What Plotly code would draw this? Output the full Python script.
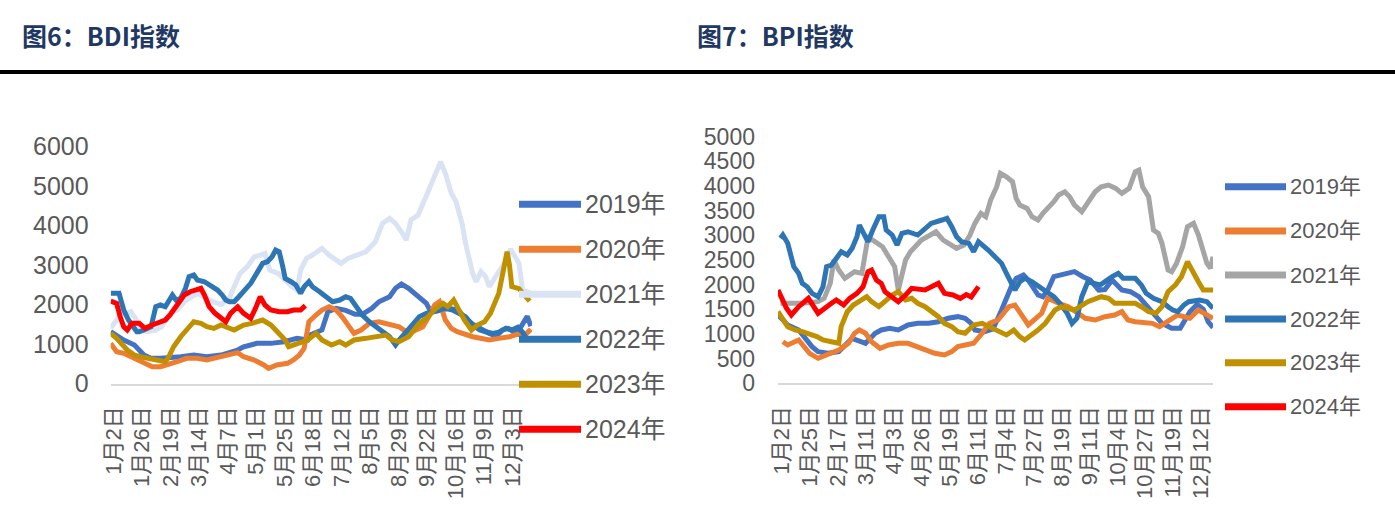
import plotly.graph_objects as go

# ---------------- BDI (图6) : day offset from 1月2日 -> index value ----------------
bdi_tick_days = [0, 24, 48, 72, 96, 120, 144, 168, 192, 216, 240, 264, 288, 312, 336]
bdi_tick_labels = ["1月2日", "1月26日", "2月19日", "3月14日", "4月7日", "5月1日", "5月25日",
                   "6月18日", "7月12日", "8月5日", "8月29日", "9月22日", "10月16日", "11月9日", "12月3日"]

bdi_2019_day = [0, 11, 20, 28, 34, 42, 59, 70, 81, 93, 107, 112, 118, 123, 135, 146, 157, 166, 168, 178,
                183, 190, 198, 206, 212, 220, 226, 235, 240, 245, 251, 260, 266, 270, 277, 285, 293, 299,
                305, 311, 319, 325, 330, 335, 340, 345, 351, 354]
bdi_2019_val = [1310, 1100, 973, 720, 637, 637, 678, 720, 678, 720, 847, 930, 973, 1015, 1015, 1057, 1142,
                1100, 1226, 1353, 1815, 1900, 1850, 1750, 1750, 1900, 2068, 2195, 2407, 2516, 2407, 2195,
                2028, 1800, 1850, 1900, 1850, 1648, 1500, 1395, 1268, 1200, 1350, 1395, 1300, 1400, 1700, 1450]

bdi_2020_day = [0, 5, 11, 20, 28, 35, 42, 48, 56, 64, 73, 81, 93, 107, 112, 121, 129, 133, 140, 149, 154,
                159, 163, 165, 167, 173, 178, 184, 190, 195, 201, 205, 211, 218, 226, 235, 243, 251, 263,
                268, 273, 277, 282, 287, 292, 305, 319, 327, 336, 343, 348, 354]
bdi_2020_val = [1015, 805, 763, 637, 510, 425, 425, 468, 551, 637, 637, 594, 678, 780, 678, 594, 468, 384,
                468, 510, 594, 720, 890, 1300, 1563, 1732, 1858, 1942, 1858, 1689, 1436, 1268, 1353, 1522,
                1563, 1479, 1436, 1268, 1436, 1689, 1985, 2068, 1605, 1395, 1310, 1183, 1100, 1142, 1183,
                1250, 1200, 1370]

bdi_2021_day = [0, 8, 17, 21, 25, 31, 38, 43, 50, 56, 62, 73, 81, 86, 93, 100, 104, 109, 115, 121, 126, 130,
                134, 141, 153, 157, 160, 165, 170, 178, 184, 194, 200, 208, 215, 223, 229, 235, 240, 245,
                249, 253, 259, 268, 274, 278, 282, 287, 291, 296, 299, 302, 305, 308, 312, 316, 319, 327,
                331, 337, 344, 347, 354]
bdi_2021_val = [1395, 1732, 1815, 1648, 1353, 1310, 1353, 1436, 1775, 1858, 2068, 2280, 2154, 2068, 2000,
                2154, 2448, 2786, 2953, 3206, 3249, 3290, 2870, 2786, 2448, 2364, 2870, 3165, 3249, 3417,
                3249, 3039, 3165, 3249, 3333, 3585, 4050, 4177, 4050, 3838, 3628, 4134, 4260, 4893, 5315,
                5608, 5315, 4810, 4597, 4050, 3545, 3206, 2786, 2574, 2827, 2700, 2448, 2827, 3000, 3400,
                3039, 2364, 2280]

bdi_2022_day = [0, 7, 11, 15, 22, 24, 28, 34, 38, 42, 46, 49, 52, 55, 59, 63, 66, 70, 73, 79, 84, 90, 94,
                97, 100, 104, 108, 118, 123, 128, 132, 136, 139, 142, 145, 147, 152, 156, 160, 163, 167,
                170, 176, 181, 187, 193, 198, 202, 207, 212, 218, 229, 235, 240, 243, 254, 260, 266, 271,
                277, 282, 288, 299, 305, 311, 316, 322, 327, 333, 338, 343, 347, 350, 354]
bdi_2022_val = [2280, 2280, 1858, 1605, 1310, 1310, 1353, 1436, 1942, 1985, 1942, 2111, 2238, 2111, 2154,
                2407, 2700, 2743, 2617, 2574, 2491, 2364, 2238, 2111, 2068, 2068, 2195, 2533, 2786, 3039,
                3080, 3206, 3375, 3333, 2953, 2660, 2574, 2491, 2280, 2448, 2574, 2448, 2322, 2195, 2068,
                2111, 2195, 2154, 1942, 1732, 1563, 1310, 1183, 973, 1100, 1479, 1689, 1775, 1815, 1858,
                1901, 1858, 1689, 1479, 1353, 1310, 1268, 1300, 1400, 1350, 1420, 1300, 1150, 1120]

bdi_2023_day = [0, 5, 14, 20, 25, 34, 42, 46, 49, 53, 59, 64, 70, 76, 81, 87, 93, 104, 112, 119, 128, 135,
                142, 147, 150, 160, 166, 173, 178, 186, 193, 198, 205, 215, 232, 237, 243, 251, 260, 266,
                274, 280, 284, 289, 298, 304, 309, 315, 320, 327, 331, 334, 336, 338, 344, 348, 353]
bdi_2023_val = [1268, 1142, 847, 720, 678, 637, 594, 551, 678, 930, 1183, 1353, 1563, 1522, 1436, 1395,
                1479, 1353, 1479, 1522, 1605, 1479, 1268, 1100, 930, 1057, 1100, 1268, 1100, 973, 1057, 973,
                1100, 1142, 1226, 1100, 1057, 1183, 1522, 1648, 1901, 2028, 1942, 2111, 1605, 1353, 1479,
                1563, 1775, 2280, 2870, 3333, 3000, 2450, 2400, 2238, 2086]

bdi_2024_day = [0, 5, 8, 11, 14, 18, 24, 29, 35, 41, 46, 50, 56, 62, 67, 73, 76, 79, 83, 88, 94, 97, 101,
                107, 112, 118, 122, 126, 130, 135, 142, 149, 154, 160, 164]
bdi_2024_val = [2086, 2028, 1689, 1436, 1353, 1522, 1522, 1395, 1479, 1563, 1605, 1732, 1985, 2238, 2322,
                2364, 2407, 2238, 1942, 1775, 1648, 1563, 1775, 1942, 1775, 1648, 1901, 2195, 1985, 1858,
                1815, 1815, 1858, 1860, 1970]

# ---------------- BPI (图7) ----------------
bpi_tick_days = [0, 23, 46, 69, 92, 115, 138, 161, 184, 207, 230, 253, 276, 299, 322, 345]
bpi_tick_labels = ["1月2日", "1月25日", "2月17日", "3月11日", "4月3日", "4月26日", "5月19日", "6月11日",
                   "7月4日", "7月27日", "8月19日", "9月11日", "10月4日", "10月27日", "11月19日", "12月12日"]

bpi_2019_day = [0, 8, 17, 22, 28, 33, 41, 50, 61, 72, 80, 85, 92, 99, 107, 115, 124, 132, 140, 148, 154,
                159, 162, 170, 177, 184, 188, 192, 196, 202, 206, 210, 214, 218, 222, 227, 232, 239, 244,
                251, 257, 264, 269, 275, 283, 290, 297, 303, 309, 316, 324, 331, 335, 339, 345, 350, 354, 358]
bpi_2019_val = [1385, 1182, 1081, 912, 743, 642, 608, 642, 912, 811, 1014, 1081, 1115, 1081, 1182, 1216,
                1216, 1249, 1318, 1351, 1318, 1216, 1081, 1047, 1100, 1486, 1756, 1958, 2128, 2196, 2094,
                1958, 1790, 1756, 1891, 2162, 2196, 2230, 2263, 2162, 2094, 1891, 1900, 2094, 1891, 1857,
                1756, 1587, 1419, 1216, 1115, 1115, 1283, 1450, 1600, 1500, 1250, 1130]

bpi_2020_day = [4, 8, 17, 21, 26, 33, 41, 50, 58, 63, 67, 72, 77, 84, 91, 99, 107, 121, 129, 137, 143, 148,
                154, 161, 168, 174, 181, 190, 195, 200, 206, 217, 222, 231, 239, 253, 261, 269, 277, 283,
                288, 294, 308, 314, 321, 329, 339, 346, 358]
bpi_2020_val = [843, 777, 878, 743, 608, 507, 574, 676, 811, 1014, 1081, 1014, 843, 709, 777, 811, 811, 676,
                608, 574, 642, 743, 777, 811, 1014, 1216, 1283, 1553, 1587, 1419, 1182, 1419, 1723, 1622,
                1553, 1318, 1283, 1351, 1385, 1452, 1283, 1249, 1216, 1148, 1249, 1385, 1318, 1486, 1318]

bpi_2021_day = [2, 11, 20, 33, 38, 43, 46, 50, 55, 63, 69, 74, 78, 86, 96, 99, 105, 109, 118, 130, 136,
                147, 153, 158, 162, 167, 171, 175, 180, 183, 188, 193, 196, 199, 205, 209, 214, 218, 222,
                227, 231, 236, 240, 244, 250, 256, 261, 266, 272, 278, 283, 289, 294, 297, 300, 305, 309,
                313, 316, 321, 324, 328, 333, 337, 342, 346, 353, 356, 358]
bpi_2021_val = [1622, 1622, 1622, 1655, 1723, 2027, 2500, 2297, 2128, 2263, 2230, 2950, 2900, 2770, 2364,
                1891, 2500, 2668, 2905, 3073, 2905, 2737, 2804, 3006, 3243, 3446, 3378, 3716, 3985, 4257,
                4188, 4087, 3750, 3614, 3547, 3378, 3311, 3446, 3547, 3682, 3817, 3884, 3783, 3614, 3479,
                3716, 3884, 3985, 4020, 3952, 3851, 3952, 4290, 4324, 3985, 3783, 3108, 3041, 2838, 2297,
                2263, 2432, 2770, 3175, 3243, 3006, 2432, 2331, 2567]

bpi_2022_day = [2, 4, 8, 13, 17, 20, 24, 28, 33, 37, 40, 44, 52, 57, 61, 65, 67, 72, 74, 78, 83, 87, 89,
                94, 98, 102, 107, 115, 121, 126, 135, 139, 143, 147, 151, 157, 161, 165, 173, 179, 184,
                188, 192, 195, 199, 203, 209, 216, 221, 227, 232, 238, 242, 246, 250, 255, 265, 275, 280,
                284, 294, 299, 303, 309, 316, 321, 325, 329, 334, 338, 347, 353, 358]
bpi_2022_val = [2940, 3006, 2838, 2364, 2230, 2027, 1958, 1824, 1756, 1958, 2364, 2398, 2668, 2601, 2737,
                2972, 3209, 2972, 2871, 3108, 3378, 3378, 3108, 3006, 2804, 3041, 3073, 3006, 3142, 3243,
                3311, 3345, 3175, 2972, 2871, 2838, 2668, 2871, 2702, 2534, 2432, 2230, 2027, 1891, 2060,
                2128, 2060, 1958, 1857, 1756, 1622, 1419, 1216, 1318, 1756, 2060, 1993, 2162, 2230, 2128,
                2128, 1993, 1824, 1723, 1655, 1553, 1486, 1452, 1587, 1655, 1689, 1655, 1520]

bpi_2023_day = [0, 4, 8, 14, 20, 32, 37, 44, 50, 52, 57, 62, 67, 73, 77, 83, 94, 99, 105, 110, 115, 121,
                132, 137, 143, 148, 154, 161, 168, 181, 188, 194, 199, 203, 209, 214, 220, 228, 233, 244,
                255, 261, 266, 272, 277, 283, 294, 299, 305, 311, 316, 321, 327, 332, 337, 346, 350, 358]
bpi_2023_val = [1452, 1318, 1148, 1081, 1047, 946, 878, 843, 811, 1148, 1452, 1587, 1655, 1756, 1655, 1553,
                1790, 1857, 1689, 1723, 1622, 1553, 1351, 1216, 1148, 1047, 1014, 1182, 1216, 1047, 980,
                1081, 946, 878, 980, 1081, 1216, 1486, 1553, 1486, 1655, 1723, 1756, 1723, 1622, 1622, 1622,
                1553, 1452, 1419, 1553, 1857, 1993, 2162, 2466, 2060, 1891, 1891]

bpi_2024_day = [0, 3, 7, 11, 17, 25, 30, 33, 44, 48, 54, 59, 65, 70, 74, 77, 81, 85, 88, 94, 99, 105, 110,
                121, 126, 132, 137, 144, 150, 155, 159, 162, 165]
bpi_2024_val = [1891, 1723, 1520, 1385, 1553, 1723, 1520, 1419, 1622, 1689, 1587, 1723, 1824, 1958, 2263,
                2297, 2094, 2027, 1857, 1756, 1655, 1790, 1925, 1891, 1958, 2027, 1824, 1790, 1723, 1800,
                1750, 1850, 1960]

years = ["2019年", "2020年", "2021年", "2022年", "2023年", "2024年"]
bdi_colors = ["#4472C4", "#ED7D31", "#DAE3F3", "#2E75B6", "#BF9000", "#FF0000"]
bpi_colors = ["#4472C4", "#ED7D31", "#A5A5A5", "#2E75B6", "#BF9000", "#FF0000"]

bdi_series = [(bdi_2019_day, bdi_2019_val), (bdi_2020_day, bdi_2020_val), (bdi_2021_day, bdi_2021_val),
              (bdi_2022_day, bdi_2022_val), (bdi_2023_day, bdi_2023_val), (bdi_2024_day, bdi_2024_val)]
bpi_series = [(bpi_2019_day, bpi_2019_val), (bpi_2020_day, bpi_2020_val), (bpi_2021_day, bpi_2021_val),
              (bpi_2022_day, bpi_2022_val), (bpi_2023_day, bpi_2023_val), (bpi_2024_day, bpi_2024_val)]

W, H = 1395, 526
FONT = "Liberation Sans, Noto Sans CJK SC, sans-serif"
CJK = "Noto Sans CJK SC, sans-serif"
GRAY = "#595959"


def px(x):
    return x / W


def py(y):
    return 1 - y / H


fig = go.Figure()
for (d, v), name, c in zip(bdi_series, years, bdi_colors):
    fig.add_trace(go.Scatter(x=d, y=v, name=name, mode="lines", line=dict(color=c, width=5),
                             xaxis="x", yaxis="y", showlegend=False))
for (d, v), name, c in zip(bpi_series, years, bpi_colors):
    fig.add_trace(go.Scatter(x=d, y=v, name=name, mode="lines", line=dict(color=c, width=5),
                             xaxis="x2", yaxis="y2", showlegend=False))

xcommon = dict(tickmode="array", tickangle=-90, showgrid=False, zeroline=False, ticks="",
               showline=True, linecolor="#D9D9D9", linewidth=2, automargin=False)
ycommon = dict(showgrid=False, zeroline=False, ticks="", showline=False, automargin=False)

fig.update_layout(
    width=W, height=H, margin=dict(l=0, r=0, t=0, b=0, autoexpand=False),
    paper_bgcolor="white", plot_bgcolor="white", showlegend=False,
    font=dict(family=FONT, color=GRAY),
    xaxis=dict(domain=[px(110.7), px(532)], range=[0, 355], tickvals=bdi_tick_days,
               ticktext=bdi_tick_labels, tickfont=dict(family=FONT, size=22, color=GRAY),
               ticklabelstandoff=12, ticklabelshift=3, anchor="y", **xcommon),
    yaxis=dict(domain=[py(383.5), py(146.3)], range=[0, 6000], dtick=1000, anchor="x",
               ticklabelstandoff=21, tickfont=dict(family=FONT, size=25, color=GRAY), **ycommon),
    xaxis2=dict(domain=[px(778), px(1213)], range=[0, 358], tickvals=bpi_tick_days,
                ticktext=bpi_tick_labels, tickfont=dict(family=FONT, size=22, color=GRAY),
                ticklabelstandoff=12, ticklabelshift=4, anchor="y2", **xcommon),
    yaxis2=dict(domain=[py(383.3), py(136.7)], range=[0, 5000], dtick=500, anchor="x2",
                ticklabelstandoff=22, tickfont=dict(family=FONT, size=23, color=GRAY), **ycommon),
)

shapes = [dict(type="line", xref="paper", yref="paper", x0=0, x1=1, y0=py(72), y1=py(72),
               line=dict(color="black", width=4))]
annotations = [
    dict(text="<b>图6：BDI指数</b>", x=px(20), y=py(35), xref="paper", yref="paper",
         xanchor="left", yanchor="middle", showarrow=False,
         font=dict(family=CJK, size=25, color="#1F3864")),
    dict(text="<b>图7：BPI指数</b>", x=px(695), y=py(35), xref="paper", yref="paper",
         xanchor="left", yanchor="middle", showarrow=False,
         font=dict(family=CJK, size=25, color="#1F3864")),
]

# legends (drawn manually to match the Excel-style long line samples)
bdi_leg_y = [204.3, 249.3, 294.3, 339.3, 384.3, 429.3]
bpi_leg_y = [186.7, 231.0, 275.0, 319.0, 362.7, 406.7]
for name, c, yy in zip(years, bdi_colors, bdi_leg_y):
    shapes.append(dict(type="line", xref="paper", yref="paper", x0=px(519), x1=px(581),
                       y0=py(yy), y1=py(yy), line=dict(color=c, width=7)))
    annotations.append(dict(text=name, x=px(583), y=py(yy), xref="paper", yref="paper",
                            xanchor="left", yanchor="middle", showarrow=False,
                            font=dict(family=FONT, size=25, color=GRAY)))
for name, c, yy in zip(years, bpi_colors, bpi_leg_y):
    shapes.append(dict(type="line", xref="paper", yref="paper", x0=px(1225), x1=px(1286),
                       y0=py(yy), y1=py(yy), line=dict(color=c, width=7)))
    annotations.append(dict(text=name, x=px(1288), y=py(yy), xref="paper", yref="paper",
                            xanchor="left", yanchor="middle", showarrow=False,
                            font=dict(family=FONT, size=22, color=GRAY)))

fig.update_layout(shapes=shapes, annotations=annotations)
fig.write_html("out.html", config={"displayModeBar": False},
               post_script="document.body.style.margin='0';document.body.style.overflow='hidden';")
